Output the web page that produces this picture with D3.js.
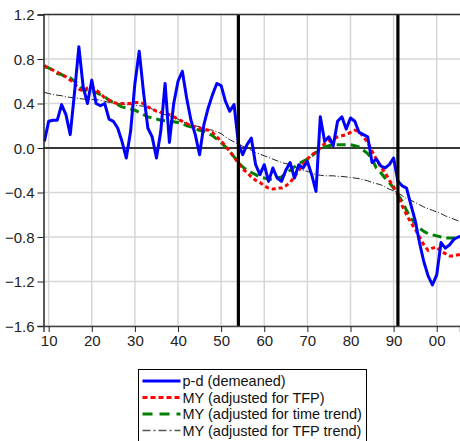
<!DOCTYPE html>
<html>
<head>
<meta charset="utf-8">
<script src="https://cdn.jsdelivr.net/npm/d3@7"></script>
<style>
  body { margin: 0; background: #fff; }
  svg { display: block; }
  .axis text { font-family: 'Liberation Sans Narrow', 'Liberation Sans', sans-serif; font-size: 15px; fill: #222; }
  .legend text { font-family: 'Liberation Sans Narrow', 'Liberation Sans', sans-serif; font-size: 14.5px; fill: #111; }
</style>
</head>
<body>
<div id="chart"></div>
<script>
const startYear = 1909
const years = d3.range(startYear, 2007)

// p-d (demeaned)
const pd = [
  0.06, 0.24, 0.25, 0.25, 0.39, 0.30, 0.12, 0.50, 0.91, 0.55,
  0.40, 0.61, 0.40, 0.38, 0.40, 0.26, 0.24, 0.18, 0.06, -0.09,
  0.15, 0.58, 0.87, 0.50, 0.18, 0.10, -0.09, 0.15, 0.58, 0.05,
  0.40, 0.60, 0.69, 0.45, 0.25, 0.12, -0.06, 0.21, 0.36, 0.48,
  0.58, 0.56, 0.42, 0.33, 0.39, 0.04, -0.06, 0.03, 0.09, -0.15,
  -0.24, -0.15, -0.30, -0.18, -0.27, -0.30, -0.20, -0.13, -0.27, -0.15,
  -0.18, -0.12, -0.24, -0.39, 0.28, 0.06, 0.10, 0.02, 0.24, 0.28,
  0.17, 0.27, 0.24, 0.14, 0.12, 0.10, -0.13, -0.10, -0.16, -0.18,
  -0.15, -0.09, -0.30, -0.34, -0.36, -0.51, -0.65, -0.85, -1.02, -1.15,
  -1.23, -1.14, -0.85, -0.90, -0.87, -0.82, -0.80, -0.79
]

// MY (adjusted for TFP)
const myTfp = [
  0.74, 0.72, 0.70, 0.68, 0.66, 0.64, 0.61, 0.58, 0.53, 0.51,
  0.54, 0.55, 0.52, 0.49, 0.45, 0.43, 0.41, 0.40, 0.40, 0.40,
  0.40, 0.41, 0.41, 0.40, 0.37, 0.35, 0.33, 0.32, 0.31, 0.30,
  0.28, 0.26, 0.24, 0.22, 0.20, 0.19, 0.18, 0.17, 0.16, 0.14,
  0.10, 0.06, 0.02, -0.03, -0.08, -0.14, -0.19, -0.22, -0.26, -0.29,
  -0.31, -0.34, -0.36, -0.37, -0.36, -0.36, -0.34, -0.31, -0.26, -0.20,
  -0.15, -0.10, -0.06, -0.04, 0.00, 0.04, 0.06, 0.08, 0.10, 0.11,
  0.12, 0.14, 0.16, 0.15, 0.10, 0.05, -0.03, -0.10, -0.17, -0.22,
  -0.29, -0.35, -0.42, -0.52, -0.60, -0.67, -0.73, -0.80, -0.87, -0.92,
  -0.90, -0.89, -0.93, -0.95, -0.97, -0.97, -0.96, -0.95
]

// MY (adjusted for time trend)
const myTime = [
  0.73, 0.72, 0.70, 0.67, 0.66, 0.64, 0.63, 0.60, 0.57, 0.52,
  0.52, 0.51, 0.50, 0.48, 0.46, 0.43, 0.41, 0.39, 0.37, 0.36,
  0.35, 0.34, 0.32, 0.30, 0.28, 0.27, 0.26, 0.25, 0.245, 0.24,
  0.235, 0.23, 0.22, 0.20, 0.19, 0.17, 0.16, 0.15, 0.13, 0.11,
  0.08, 0.05, 0.01, -0.03, -0.08, -0.13, -0.17, -0.20, -0.22, -0.24,
  -0.26, -0.27, -0.28, -0.28, -0.27, -0.26, -0.23, -0.20, -0.17, -0.14,
  -0.12, -0.10, -0.07, -0.04, -0.02, 0.01, 0.02, 0.03, 0.03, 0.03,
  0.03, 0.03, 0.02, 0.01, -0.02, -0.05, -0.10, -0.18, -0.22, -0.27,
  -0.31, -0.36, -0.42, -0.48, -0.56, -0.63, -0.68, -0.72, -0.75, -0.77,
  -0.78, -0.79, -0.80, -0.81, -0.81, -0.81, -0.80, -0.80
]

// MY (adjusted for TFP trend)
const myTfpTrend = [
  0.50, 0.49, 0.48, 0.475, 0.47, 0.46, 0.455, 0.45, 0.445, 0.44,
  0.44, 0.435, 0.435, 0.43, 0.42, 0.41, 0.405, 0.40, 0.395, 0.39,
  0.39, 0.385, 0.38, 0.375, 0.37, 0.35, 0.33, 0.315, 0.30, 0.285,
  0.27, 0.26, 0.24, 0.22, 0.21, 0.20, 0.19, 0.175, 0.165, 0.16,
  0.145, 0.13, 0.10, 0.075, 0.055, 0.035, 0.015, 0.0, -0.02, -0.04,
  -0.055, -0.07, -0.085, -0.10, -0.115, -0.13, -0.14, -0.15, -0.17, -0.19,
  -0.20, -0.21, -0.225, -0.24, -0.245, -0.25, -0.25, -0.25, -0.255, -0.255,
  -0.26, -0.265, -0.27, -0.275, -0.285, -0.295, -0.31, -0.32, -0.33, -0.35,
  -0.37, -0.385, -0.40, -0.43, -0.455, -0.47, -0.49, -0.51, -0.53, -0.545,
  -0.56, -0.575, -0.59, -0.61, -0.625, -0.64, -0.655, -0.67
]

const xTicks = [1910, 1920, 1930, 1940, 1950, 1960, 1970, 1980, 1990, 2000]
const yTicks = [-1.6, -1.2, -0.8, -0.4, 0.0, 0.4, 0.8, 1.2]
const markerYears = [1954, 1991]

const legendLabels = [
  'p-d (demeaned)',
  'MY (adjusted for TFP)',
  'MY (adjusted for time trend)',
  'MY (adjusted for TFP trend)'
]

const totalW = 460
const totalH = 441
const margin = { top: 14.5, left: 43.5, right: 0, bottom: 115 }
const width = totalW - margin.left - margin.right
const height = totalH - margin.top - margin.bottom

const svgRoot = d3.select('#chart')
  .append('svg')
  .attr('width', totalW)
  .attr('height', totalH)

const svg = svgRoot.append('g')
  .attr('transform', 'translate(' + margin.left + ',' + margin.top + ')')

const xScale = d3.scaleLinear().domain([1908.8, 2005.4]).range([0, width])
const yScale = d3.scaleLinear().domain([-1.6, 1.2]).range([height, 0])

svgRoot.append('defs').append('clipPath').attr('id', 'plot-clip')
  .append('rect').attr('x', 0).attr('y', 0).attr('width', width).attr('height', height)

// grid
svg.append('g').selectAll('line').data(xTicks).enter().append('line')
  .attr('x1', d => xScale(d)).attr('x2', d => xScale(d))
  .attr('y1', 0).attr('y2', height)
  .attr('stroke', '#d6d6d6').attr('stroke-width', 1.5)

svg.append('g').selectAll('line').data(yTicks).enter().append('line')
  .attr('x1', 0).attr('x2', width)
  .attr('y1', d => yScale(d)).attr('y2', d => yScale(d))
  .attr('stroke', '#d6d6d6').attr('stroke-width', 1.5)

// zero line
svg.append('line')
  .attr('x1', 0).attr('x2', width)
  .attr('y1', yScale(0)).attr('y2', yScale(0))
  .attr('stroke', '#000').attr('stroke-width', 1.3)

const series = [
  { values: pd, color: '#0000ff', w: 3, dash: null },
  { values: myTfp, color: '#ff0000', w: 3, dash: '4,3' },
  { values: myTime, color: '#008000', w: 3, dash: '9,5' },
  { values: myTfpTrend, color: '#222', w: 1, dash: '7,2,1,2' }
]

const line = d3.line()
  .x(d => xScale(d[0]))
  .y(d => yScale(d[1]))

const plot = svg.append('g').attr('clip-path', 'url(#plot-clip)')

// draw back-to-front: trend first, blue last
;[3, 2, 1, 0].forEach(i => {
  const s = series[i]
  plot.append('path')
    .datum(years.map((yr, j) => [yr, s.values[j]]))
    .attr('d', line)
    .attr('fill', 'none')
    .attr('stroke', s.color)
    .attr('stroke-width', s.w)
    .attr('stroke-dasharray', s.dash)
    .attr('stroke-linejoin', 'round')
})

// heavy markers
svg.append('g').selectAll('line').data(markerYears).enter().append('line')
  .attr('x1', d => xScale(d)).attr('x2', d => xScale(d))
  .attr('y1', 0).attr('y2', height)
  .attr('stroke', '#000').attr('stroke-width', 3.2)

// frame top
svg.append('line')
  .attr('x1', 0).attr('x2', width).attr('y1', 0).attr('y2', 0)
  .attr('stroke', '#333').attr('stroke-width', 1.5)

// axes
const yAxis = svg.append('g').attr('class', 'axis')
  .call(d3.axisLeft(yScale).tickValues(yTicks).tickFormat(d3.format('.1f')).tickSize(6).tickPadding(3))
yAxis.select('.domain').attr('stroke', '#222').attr('stroke-width', 1.5)
yAxis.selectAll('.tick line').attr('stroke', '#222')
yAxis.selectAll('.tick text').attr('dy', '0.36em')

const xAxis = svg.append('g').attr('class', 'axis')
  .attr('transform', 'translate(0,' + height + ')')
  .call(d3.axisBottom(xScale).tickValues(xTicks)
    .tickFormat(d => d3.format('02d')(d % 100)).tickSize(6).tickPadding(3))
xAxis.select('.domain').attr('stroke', '#444').attr('stroke-width', 1.5)
xAxis.selectAll('.tick line').attr('stroke', '#222')

// legend
const legend = svgRoot.append('g').attr('class', 'legend')
  .attr('transform', 'translate(138.5,369.5)')

legend.append('rect')
  .attr('width', 228).attr('height', 80)
  .attr('fill', '#fff').attr('stroke', '#000').attr('stroke-width', 1)

legendLabels.forEach((label, i) => {
  const s = series[i]
  const y = 11.5 + i * 16.5
  legend.append('line')
    .attr('x1', 4).attr('x2', 42).attr('y1', y).attr('y2', y)
    .attr('stroke', i === 3 ? '#555' : s.color)
    .attr('stroke-width', i === 3 ? 1.3 : 3)
    .attr('stroke-dasharray', i === 1 ? '5,3' : i === 2 ? '10,7' : i === 3 ? '8,3,2,3' : null)
  legend.append('text')
    .attr('x', 44).attr('y', y + 5)
    .text(label)
})
</script>
</body>
</html>
